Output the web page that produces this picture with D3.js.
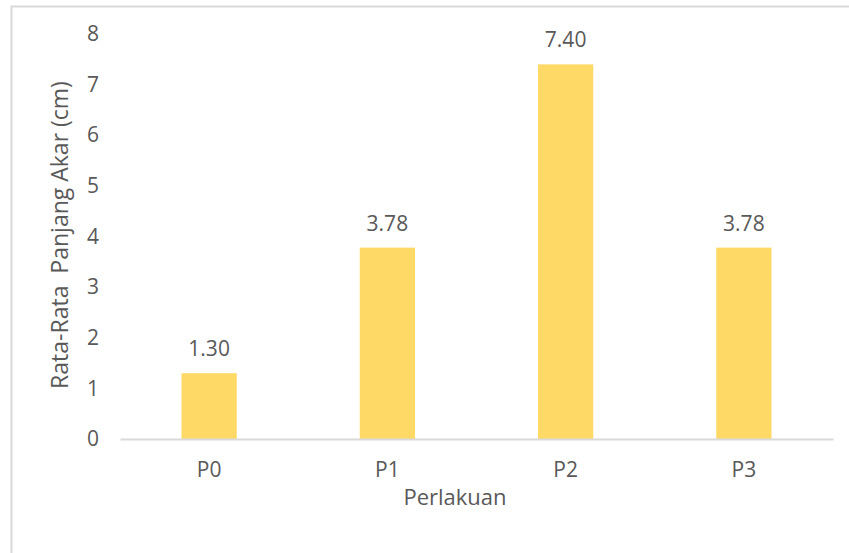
<!DOCTYPE html>
<html>
<head>
<meta charset="utf-8">
<script src="https://cdn.jsdelivr.net/npm/d3@7"></script>
<style>
  body { margin: 0; background: #fff; }
  svg text { font-family: "Open Sans", "Liberation Sans", sans-serif; fill: #595959; }
</style>
</head>
<body>
<div id="chart"></div>
<script>
// chart values
const categories = ['P0', 'P1', 'P2', 'P3'];
const values = [1.30, 3.78, 7.40, 3.78];
const yTicks = [0, 1, 2, 3, 4, 5, 6, 7, 8];

const width = 849;
const height = 553;
const margin = { top: 34, right: 16, bottom: 115, left: 120 };

const svg = d3.select('#chart')
  .append('svg')
  .attr('width', width)
  .attr('height', height);

// outer chart border (cut off on right and bottom like the original)
svg.append('rect')
  .attr('x', 11.5)
  .attr('y', 6.5)
  .attr('width', width + 20)
  .attr('height', height + 20)
  .attr('fill', 'none')
  .attr('stroke', '#d9d9d9')
  .attr('stroke-width', 2);

const x = d3.scaleBand()
  .domain(categories)
  .range([margin.left, width - margin.right])
  .paddingInner(0.69)
  .paddingOuter(0.345);

const y = d3.scaleLinear()
  .domain([0, 8])
  .range([height - margin.bottom + 1, margin.top]);

// y tick labels, no axis line
const yAxis = d3.axisLeft(y)
  .tickValues(yTicks)
  .tickSize(0)
  .tickPadding(0)
  .tickFormat(d3.format('d'));

svg.append('g')
  .attr('transform', `translate(${margin.left - 21},0)`)
  .call(yAxis)
  .call(g => g.select('.domain').remove())
  .selectAll('text')
  .style('font-size', '21px');

// bars
svg.selectAll('rect.bar')
  .data(values)
  .enter().append('rect')
  .attr('class', 'bar')
  .attr('x', (d, i) => x(categories[i]))
  .attr('width', x.bandwidth())
  .attr('y', d => y(d))
  .attr('height', d => y(0) - y(d))
  .attr('fill', '#FFD966');

// value labels
svg.selectAll('text.value')
  .data(values)
  .enter().append('text')
  .attr('class', 'value')
  .attr('x', (d, i) => x(categories[i]) + x.bandwidth() / 2)
  .attr('y', d => y(d) - 17)
  .attr('text-anchor', 'middle')
  .style('font-size', '21px')
  .text(d => d3.format('.2f')(d));

// x axis
const xAxis = d3.axisBottom(x).tickSize(0).tickPadding(23);
svg.append('g')
  .attr('transform', `translate(0,${y(0)})`)
  .call(xAxis)
  .call(g => g.select('.domain').attr('stroke', '#d9d9d9').attr('stroke-width', 2))
  .selectAll('text')
  .style('font-size', '21px');

// axis titles
svg.append('text')
  .attr('x', 455)
  .attr('y', 505)
  .attr('text-anchor', 'middle')
  .style('font-size', '22px')
  .text('Perlakuan');

svg.append('text')
  .attr('transform', `translate(68,235) rotate(-90)`)
  .attr('text-anchor', 'middle')
  .style('font-size', '23px')
  .style('white-space', 'pre')
  .text('Rata-Rata  Panjang Akar (cm)');
</script>
</body>
</html>
